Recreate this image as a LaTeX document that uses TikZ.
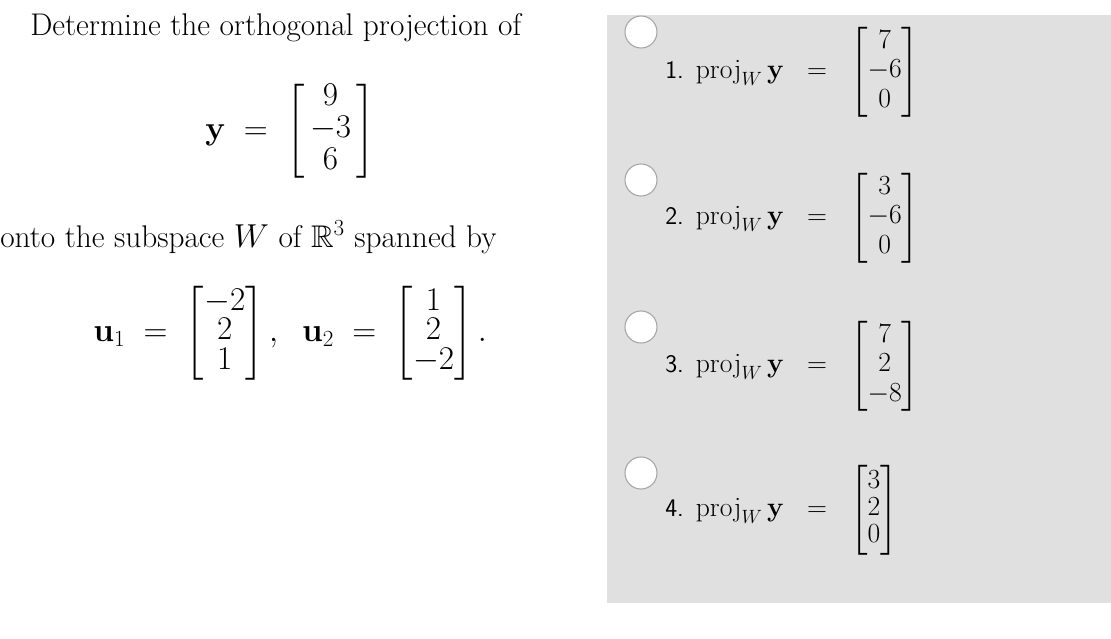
\documentclass[tikz,border=0pt]{standalone}
\usepackage{amsmath,amssymb}
\begin{document}
\begin{tikzpicture}[x=0.75pt,y=-0.75pt,
  txt/.style={inner sep=0pt,anchor=west,font=\fontsize{23.5}{28}\selectfont},
  opt/.style={inner sep=0pt,anchor=west,font=\fontsize{22.5}{27}\selectfont},
  radio/.style={circle,draw=gray!70,fill=white,minimum size=24pt,inner sep=0pt,line width=0.8pt}]
\useasboundingbox (0,0) rectangle (1111,639);
\fill[fill={rgb,255:red,224;green,224;blue,224}] (607,15) rectangle (1111,603);
\node[txt] (t1) at (30,28) {Determine the orthogonal projection of};
\node[txt] (y) at (205,131) {$\mathbf{y}\;=\;\renewcommand{\arraystretch}{0.85}\begin{bmatrix}\;\;9\;\;\\-3\\6\end{bmatrix}$};
\node[txt] (t2) at (0,237) {onto the subspace $W$ of $\mathbb{R}^3$ spanned by};
\node[txt] (u) at (93,333) {$\mathbf{u}_1\;=\;\renewcommand{\arraystretch}{0.72}\begin{bmatrix}-2\\2\\1\end{bmatrix},\;\;\mathbf{u}_2\;=\;\begin{bmatrix}1\\2\\-2\end{bmatrix}.$};
\foreach \i/\yy in {1/32,2/180,3/327,4/473}{\node[radio] (r\i) at (641,\yy) {};}
\node[opt] (o1) at (665,72) {{\fontsize{19}{23}\selectfont\textsf{1.}} $\mathrm{proj}_W\,\mathbf{y}\;\;=\;\;\renewcommand{\arraystretch}{0.82}\begin{bmatrix}\;7\;\\-6\\0\end{bmatrix}$};
\node[opt] (o2) at (665,218) {{\fontsize{19}{23}\selectfont\textsf{2.}} $\mathrm{proj}_W\,\mathbf{y}\;\;=\;\;\renewcommand{\arraystretch}{0.82}\begin{bmatrix}\;3\;\\-6\\0\end{bmatrix}$};
\node[opt] (o3) at (665,366) {{\fontsize{19}{23}\selectfont\textsf{3.}} $\mathrm{proj}_W\,\mathbf{y}\;\;=\;\;\renewcommand{\arraystretch}{0.82}\begin{bmatrix}\;7\;\\2\\-8\end{bmatrix}$};
\node[opt] (o4) at (665,510) {{\fontsize{19}{23}\selectfont\textsf{4.}} $\mathrm{proj}_W\,\mathbf{y}\;\;=\;\;\renewcommand{\arraystretch}{0.75}\begin{bmatrix}3\\2\\0\end{bmatrix}$};
\end{tikzpicture}
\end{document}
